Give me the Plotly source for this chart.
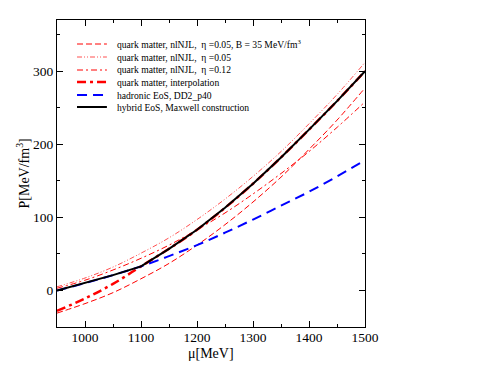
import plotly.graph_objects as go

# chemical potential grid [MeV]
mu = [950, 1000, 1050, 1100, 1150, 1200, 1250, 1300, 1350, 1400, 1450, 1500]

# pressures [MeV/fm^3]
p_eta005_b35 = [-31, -18, -3, 16, 37, 62, 90, 121, 155, 193, 233, 277]
p_eta005 = [5, 17, 32, 51, 72, 97, 125, 156, 190, 228, 268, 312]
p_eta012 = [3, 14, 28, 44, 62, 83, 106, 132, 160, 190, 223, 258]
p_interp = [-28, -11, 9, 33, 57, 83, 113, 146, 182, 220, 259, 300]
p_hadron = [0, 10, 21, 33, 47, 62, 79, 97, 116, 135, 156, 178]
p_hybrid = [0, 10, 21, 33, 57, 83, 113, 146, 182, 220, 259, 300]

labels = [
    "quark matter, nlNJL,  \u03b7 =0.05, B = 35 MeV/fm<sup>3</sup>",
    "quark matter, nlNJL,  \u03b7 =0.05",
    "quark matter, nlNJL,  \u03b7 =0.12",
    "quark matter, interpolation",
    "hadronic EoS, DD2_p40",
    "hybrid EoS, Maxwell construction",
]

styles = [
    dict(color="red", width=1, dash="6px,3px"),
    dict(color="#ff5050", width=1, dash="5px,2px,1px,2px,1px,2px"),
    dict(color="red", width=1, dash="6px,3px,2px,3px"),
    dict(color="red", width=2.5, dash="9px,4px,3px,4px"),
    dict(color="blue", width=2, dash="10px,6px"),
    dict(color="black", width=2),
]

series = [p_eta005_b35, p_eta005, p_eta012, p_interp, p_hadron, p_hybrid]

fig = go.Figure()
for i, (ys, st) in enumerate(zip(series, styles)):
    shape = "linear" if i == 5 else "spline"
    fig.add_trace(go.Scatter(x=mu, y=ys, mode="lines", showlegend=False,
                             line=dict(shape=shape, **st)))

# legend drawn by hand so the rows sit as tight as in the original
row_y = [44, 57, 70, 82, 95, 107]
for lab, st, yy in zip(labels, styles, row_y):
    yp = (327 - yy) / 307
    fig.add_shape(type="line", xref="paper", yref="paper",
                  x0=0.065, x1=0.162, y0=yp, y1=yp, line=st)
    fig.add_annotation(text=lab, xref="paper", yref="paper", x=0.188, y=yp,
                       xanchor="left", yanchor="middle", showarrow=False,
                       font=dict(size=9.6, color="black"))

# axis titles
fig.add_annotation(text="\u03bc[MeV]", xref="paper", yref="paper", x=0.5, y=0,
                   yshift=-26, xanchor="center", yanchor="middle", showarrow=False,
                   font=dict(size=14, color="black"))
fig.add_annotation(text="P[MeV/fm<sup>3</sup>]", xref="paper", yref="paper", x=0, y=0.5,
                   xshift=-34, textangle=-90, xanchor="center", yanchor="middle",
                   showarrow=False, font=dict(size=14, color="black"))

axis_common = dict(
    showline=True, linecolor="black", linewidth=1.2, mirror="allticks",
    ticks="inside", ticklen=6, tickcolor="black", tickwidth=1,
    showgrid=False, zeroline=False, automargin=False,
    tickfont=dict(size=13.5, color="black"),
    minor=dict(ticks="inside", ticklen=3, tickcolor="black", showgrid=False),
)

fig.update_xaxes(range=[950, 1500], tick0=1000, dtick=100,
                 minor_dtick=50, minor_tick0=950, ticklabelstandoff=-2,
                 **axis_common)
fig.update_yaxes(range=[-50, 370], tick0=0, dtick=100,
                 minor_dtick=50, minor_tick0=0, **axis_common)

# page body has an 8px margin, so shift the plot area back by that much
fig.update_layout(
    width=498, height=385,
    margin=dict(l=49, r=141, t=12, b=66),
    paper_bgcolor="white", plot_bgcolor="white",
    font=dict(family="Liberation Serif, Times New Roman, serif", color="black"),
)

fig.write_html("out.html")
